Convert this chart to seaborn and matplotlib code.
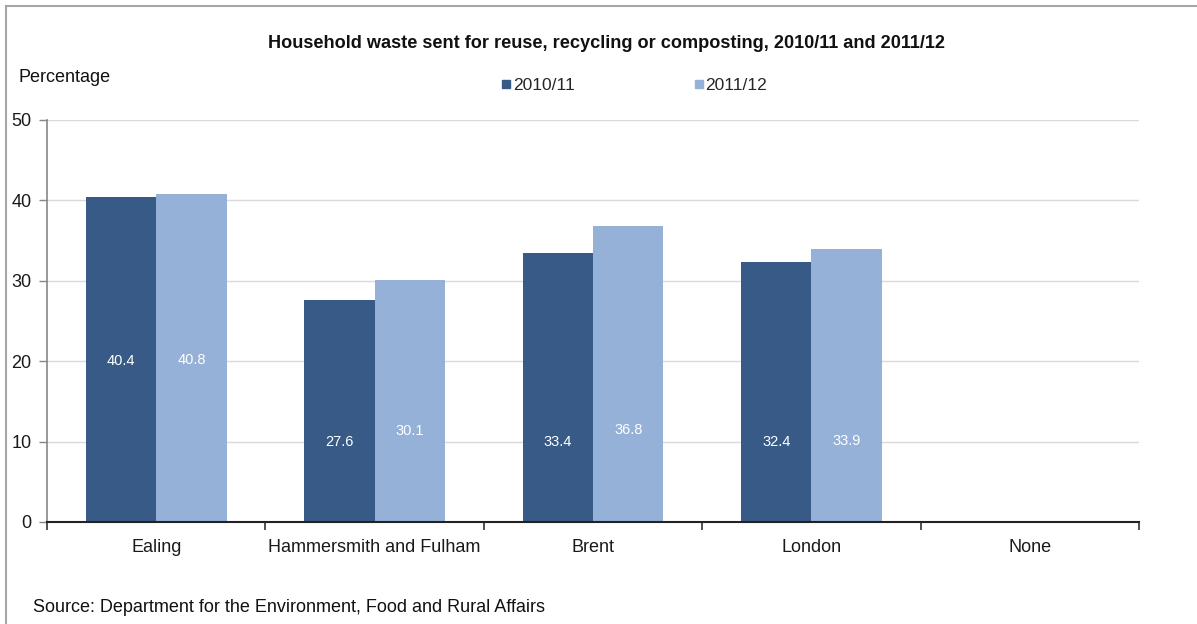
import matplotlib
matplotlib.use("Agg")
import matplotlib.pyplot as plt
import seaborn as sns
import pandas as pd
import numpy as np
from matplotlib.patches import Rectangle
from matplotlib.lines import Line2D

categories = ["Ealing", "Hammersmith and Fulham", "Brent", "London", "None"]
series_names = ["2010/11", "2011/12"]
values_2010 = [40.4, 27.6, 33.4, 32.4, np.nan]
values_2011 = [40.8, 30.1, 36.8, 33.9, np.nan]
label_y_2010 = [20.0, 10.0, 10.0, 10.0]
label_y_2011 = [20.1, 11.3, 11.4, 10.1]
y_ticks = [0, 10, 20, 30, 40, 50]
colors = ["#375A87", "#95B1D7"]

sns.set_theme(style="white")
plt.rcParams["font.family"] = ["Liberation Sans", "DejaVu Sans"]

df = pd.DataFrame({
    "category": categories * 2,
    "series": [series_names[0]] * len(categories) + [series_names[1]] * len(categories),
    "value": values_2010 + values_2011,
})

fig = plt.figure(figsize=(11.97, 6.24), dpi=100)
ax = fig.add_axes([47 / 1197, 1 - 522 / 624, (1139 - 47) / 1197, (522 - 120) / 624])

sns.barplot(data=df, x="category", y="value", hue="series", order=categories,
            hue_order=series_names, palette=colors, width=0.645, gap=0,
            saturation=1, linewidth=0, ax=ax, legend=False, errorbar=None)

ax.set_xlim(-0.5, len(categories) - 0.5)
ax.set_ylim(0, 50)
ax.set_yticks(y_ticks)
ax.set_yticklabels([str(t) for t in y_ticks], fontsize=13, color="#1a1a1a")
ax.yaxis.grid(True, color="#D9D9D9", linewidth=1)
ax.set_axisbelow(True)
ax.set_xlabel("")
ax.set_ylabel("")

ax.set_xticks(range(len(categories)))
ax.set_xticklabels(categories, fontsize=13, color="#1a1a1a")
ax.set_xticks(np.arange(-0.5, len(categories), 1.0), minor=True)
ax.tick_params(axis="x", which="major", length=0, pad=12)
ax.tick_params(axis="x", which="minor", length=6, width=1.2, color="#333333", direction="out", bottom=True)
ax.tick_params(axis="y", which="major", length=6, width=1, color="#868686", direction="out", left=True, pad=5)

for s in ["top", "right"]:
    ax.spines[s].set_visible(False)
ax.spines["left"].set_color("#868686")
ax.spines["left"].set_linewidth(1.2)
ax.spines["bottom"].set_color("#222222")
ax.spines["bottom"].set_linewidth(1.5)

# value labels
half = 0.645 / 4
for i in range(4):
    ax.text(i - half, label_y_2010[i], f"{values_2010[i]:.1f}", ha="center", va="center",
            color="white", fontsize=10.5)
    ax.text(i + half, label_y_2011[i], f"{values_2011[i]:.1f}", ha="center", va="center",
            color="white", fontsize=10.5)

fig.text(607 / 1197, 1 - 44 / 624, "Household waste sent for reuse, recycling or composting, 2010/11 and 2011/12",
         ha="center", va="center", fontsize=13.1, fontweight="bold", color="#111111")
fig.text(18 / 1197, 1 - 78 / 624, "Percentage", ha="left", va="center", fontsize=13, color="#111111")
fig.text(33 / 1197, 1 - 607 / 624, "Source: Department for the Environment, Food and Rural Affairs",
         ha="left", va="center", fontsize=13, color="#111111")

handles = [Line2D([0], [0], marker="s", linestyle="none", markersize=6,
                  markerfacecolor=c, markeredgecolor=c) for c in colors]
fig.legend(handles, series_names, loc="center", bbox_to_anchor=(634 / 1197, 1 - 85 / 624),
           ncol=2, frameon=False, fontsize=12.5, handletextpad=0.1, columnspacing=6.85,
           handlelength=0.6)

fig.add_artist(Rectangle((6 / 1197, -0.1), 1.2, 1 - 6 / 624 + 0.1, transform=fig.transFigure,
                         fill=False, edgecolor="#A6A6A6", linewidth=1.5))

fig.savefig("out.png", dpi=100)
